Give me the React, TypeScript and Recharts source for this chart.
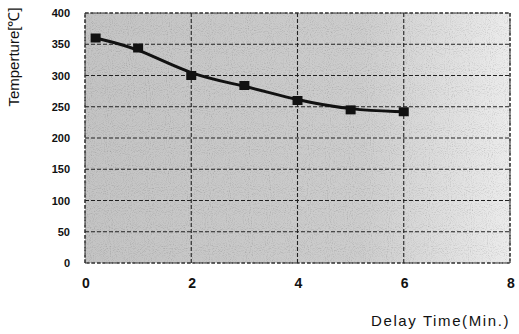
import React from "react";
import { LineChart, Line, XAxis, YAxis, CartesianGrid } from "recharts";

const delayTime = [0.2, 1, 2, 3, 4, 5, 6];
const temperature = [360, 344, 300, 284, 260, 245, 242];
const xTicks = [0, 2, 4, 6, 8];
const yTicks = [0, 50, 100, 150, 200, 250, 300, 350, 400];

const data = delayTime.map((t, i) => ({ t, temp: temperature[i] }));

const SquareDot = (props: any) => {
  const { cx, cy } = props;
  if (cx == null || cy == null) return null;
  return <rect x={cx - 5} y={cy - 4.5} width={10} height={9} fill="#111" />;
};

const XTick = (props: any) => {
  const { x, y, payload } = props;
  return (
    <text x={x + 1} y={y + 17} textAnchor="middle" fontFamily="Liberation Sans, Arial, sans-serif" fontWeight="bold" fontSize={14} fill="#111">
      {payload.value}
    </text>
  );
};

const YTick = (props: any) => {
  const { y, payload } = props;
  return (
    <text x={70} y={y + 4} textAnchor="end" fontFamily="Liberation Sans, Arial, sans-serif" fontWeight="bold" fontSize={11} fill="#111">
      {payload.value}
    </text>
  );
};

export default function App() {
  return (
    <div style={{ position: "absolute", left: 0, top: 0, width: 519, height: 334, background: "#fff" }}>
      <LineChart width={519} height={334} data={data} margin={{ top: 13, right: 9, left: 0, bottom: 0 }}>
        <defs>
          <linearGradient id="bgGrad" x1="0" y1="0" x2="1" y2="0">
            <stop offset="0%" stopColor="#c4c4c4" />
            <stop offset="65%" stopColor="#cdcdcd" />
            <stop offset="100%" stopColor="#ececec" />
          </linearGradient>
          <filter id="grain" x="0" y="0" width="100%" height="100%">
            <feTurbulence type="fractalNoise" baseFrequency="0.95" numOctaves="1" seed="3" result="noise" />
            <feColorMatrix type="saturate" values="0" in="noise" result="gray" />
            <feComponentTransfer in="gray" result="contrast">
              <feFuncR type="linear" slope="1.8" intercept="0.05" />
              <feFuncG type="linear" slope="1.8" intercept="0.05" />
              <feFuncB type="linear" slope="1.8" intercept="0.05" />
            </feComponentTransfer>
            <feBlend in="SourceGraphic" in2="contrast" mode="multiply" result="blend" />
            <feComposite in="blend" in2="SourceGraphic" operator="in" />
          </filter>
          <pattern id="bgPat" patternUnits="userSpaceOnUse" x={0} y={0} width={519} height={334}>
            <rect x={85} y={13} width={425} height={250} fill="url(#bgGrad)" filter="url(#grain)" />
          </pattern>
        </defs>
        <CartesianGrid
          stroke="#222"
          strokeDasharray="4 2"
          strokeWidth={1.1}
          fill="url(#bgPat)"
          fillOpacity={1}
        />
        <rect x={85} y={13} width={425} height={250} fill="none" stroke="#333" strokeDasharray="3 2" strokeWidth={1} />
        <XAxis
          type="number"
          dataKey="t"
          domain={[0, 8]}
          ticks={xTicks}
          axisLine={false}
          tickLine={false}
          height={71}
          tick={<XTick />}
          interval={0}
        />
        <YAxis
          type="number"
          domain={[0, 400]}
          ticks={yTicks}
          axisLine={false}
          tickLine={false}
          width={85}
          tick={<YTick />}
          interval={0}
        />
        <Line
          type="basis"
          dataKey="temp"
          stroke="#111"
          strokeWidth={3}
          dot={<SquareDot />}
          activeDot={false}
          isAnimationActive={false}
        />
        <text
          x={0}
          y={0}
          transform="translate(19,57) rotate(-90)"
          textAnchor="middle"
          fontFamily="Liberation Sans, Arial, sans-serif"
          fontSize={15}
          fill="#111"
        >
          Temperture[℃]
        </text>
        <text
          x={510}
          y={326}
          textAnchor="end"
          fontFamily="Liberation Sans, Arial, sans-serif"
          fontSize={15}
          letterSpacing={1.6}
          fill="#111"
        >
          Delay Time(Min.)
        </text>
      </LineChart>
    </div>
  );
}
